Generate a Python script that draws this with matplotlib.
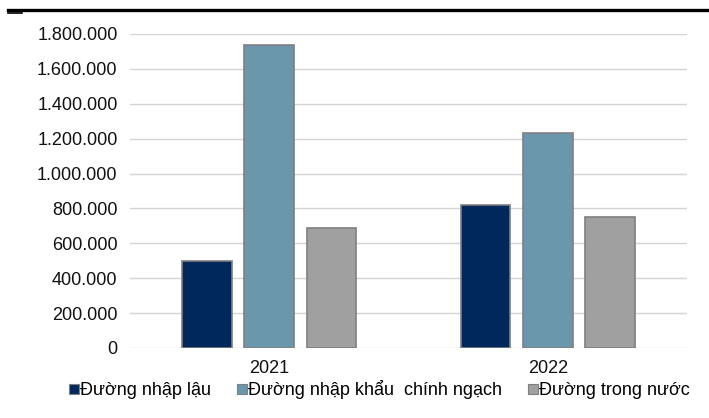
import numpy as np
import matplotlib
matplotlib.use("Agg")
import matplotlib.pyplot as plt
from matplotlib.ticker import FuncFormatter
from matplotlib.lines import Line2D

plt.rcParams['font.family'] = ['Liberation Sans', 'DejaVu Sans']

# Lượng đường theo nguồn (tấn)
nam = ['2021', '2022']
nhap_lau = [500000, 820000]
nhap_khau = [1735000, 1230000]
trong_nuoc = [690000, 750000]
ten_chuoi = ['Đường nhập lậu', 'Đường nhập khẩu  chính ngạch', 'Đường trong nước']
mau = ['#00285C', '#6A97AB', '#A0A0A0']

fig = plt.figure(figsize=(7.09, 4.18), dpi=100, facecolor='w')
ax = fig.add_axes([0.1834, 0.1675, 0.7856, 0.7512])

x = np.arange(len(nam))
w = 0.178
dx = 0.223
for k, (vals, ten) in enumerate(zip([nhap_lau, nhap_khau, trong_nuoc], ten_chuoi)):
    ax.bar(x + (k - 1) * dx, vals, width=w, color=mau[k], edgecolor='#7F7F7F',
           linewidth=1.2, label=ten, zorder=3)

ax.set_xlim(-0.5, 1.5)
ax.set_ylim(0, 1800000)
ax.set_yticks(np.arange(0, 1800001, 200000))
ax.yaxis.set_major_formatter(FuncFormatter(lambda v, p: f"{int(v):,}".replace(',', '.')))
ax.set_xticks(x)
ax.set_xticklabels(nam)
ax.grid(axis='y', color='#D4D4D4', linewidth=1.0, zorder=0)
for s in ax.spines.values():
    s.set_visible(False)
ax.tick_params(axis='both', length=0, labelsize=13, colors='#111111')
ax.tick_params(axis='y', pad=9)
ax.tick_params(axis='x', pad=9)

# legend with square markers
hd = [Line2D([], [], marker='s', linestyle='none', markersize=7.5,
             markerfacecolor=c, markeredgecolor='#7F7F7F', markeredgewidth=0.8) for c in mau]
fig.legend(hd, ten_chuoi, loc='center', bbox_to_anchor=(0.535, 0.067), ncol=3,
           frameon=False, fontsize=13, handlelength=0.6, handletextpad=0.05,
           columnspacing=1.4, borderaxespad=0)

# black rule at the top
fig.add_artist(Line2D([0.011, 1.0], [0.976, 0.976], color='k', linewidth=2.4,
                      transform=fig.transFigure))
fig.add_artist(Line2D([0.011, 0.031], [0.970, 0.970], color='k', linewidth=1.2,
                      transform=fig.transFigure))

fig.savefig('out.png', dpi=100)
